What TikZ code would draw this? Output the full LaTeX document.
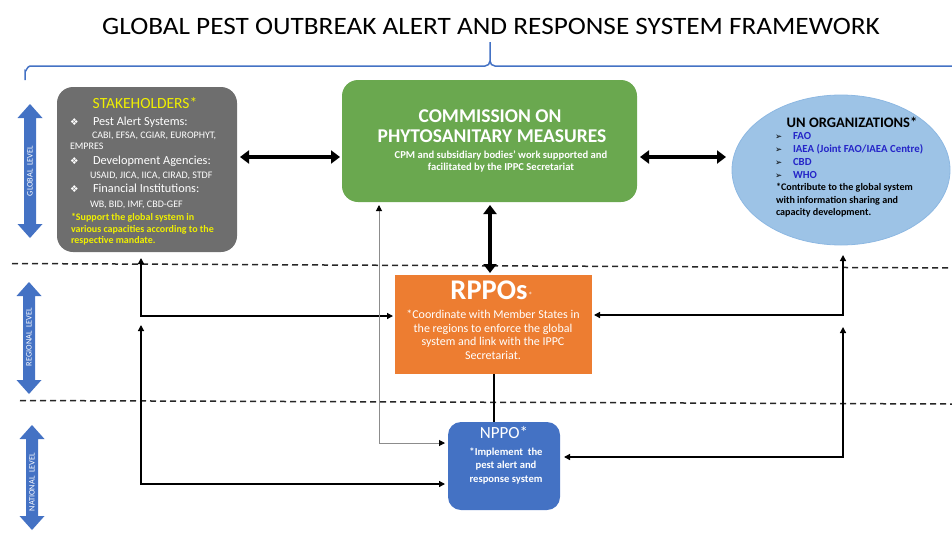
\documentclass[tikz,border=0pt]{standalone}
\usepackage{fontspec}
\setmainfont{Carlito}
\newfontfamily\symf{DejaVu Sans}
\usetikzlibrary{arrows.meta,shapes.geometric}
\definecolor{shgray}{HTML}{6E6E6E}
\definecolor{cpmgreen}{HTML}{6AA84F}
\definecolor{unblue}{HTML}{9DC3E6}
\definecolor{unborder}{HTML}{8DB8E2}
\definecolor{unitem}{HTML}{2525C8}
\definecolor{rppoorange}{HTML}{ED7D31}
\definecolor{nppoblue}{HTML}{4472C4}
\definecolor{levelblue}{HTML}{4472C4}
\definecolor{shyellow}{HTML}{F0F000}
\definecolor{graylink}{HTML}{8C8C8C}
\newcommand{\fs}[1]{\fontsize{#1}{#1}\selectfont}
\tikzset{
  box/.style={inner sep=0pt, outer sep=0pt, draw=none},
  txt/.style={inner sep=0pt, outer sep=0pt},
  bigarrow/.style={line width=3.5pt, {Triangle[width=13pt,length=9pt]}-{Triangle[width=13pt,length=9pt]}},
  thinarrow/.style={line width=1.3pt, black, {Triangle[width=6pt,length=6pt]}-{Triangle[width=6pt,length=6pt]}},
  graylinkstyle/.style={line width=1pt, graylink, {Triangle[width=6pt,length=6pt,color=black]}-{Triangle[width=6pt,length=6pt,color=black]}},
  levelline/.style={line width=1.5pt, dash pattern=on 6pt off 4pt, black!85},
  levelarrow/.style={fill=levelblue, draw=none},
  leveltext/.style={txt, text=white, font=\fs{8.3}, rotate=90},
  bul/.style={txt, anchor=base west, font=\symf\fs{9.5}},
  unbul/.style={txt, anchor=base west, font=\symf\fs{8.5}}
}
\begin{document}
\begin{tikzpicture}[x=1pt,y=-1pt]
\useasboundingbox (0,0) rectangle (952,533);

% title
\node[txt, anchor=base, font=\fs{25}, xscale=1.09] (title) at (491,34) {GLOBAL PEST OUTBREAK ALERT AND RESPONSE SYSTEM FRAMEWORK};

% brace
\draw[levelblue, line width=1.5pt] (25,80) -- (25,71) to[out=-90,in=180] (30,66) -- (485,66) to[out=0,in=-90] (490,61) -- (490,42)
  (490,61) to[out=-90,in=180] (495,66) -- (953,66);

% level separators
\draw[levelline] (12,263.5) -- (952,268);
\draw[levelline] (20,400.5) -- (952,404);

% level arrows
\foreach \cx/\ya/\yb in {30/104/238, 29/282/394, 32/425/530}{
  \fill[levelarrow] (\cx,\ya) -- (\cx+12.5,\ya+14) -- (\cx+6,\ya+14) -- (\cx+6,\yb-14) -- (\cx+12.5,\yb-14) -- (\cx,\yb)
     -- (\cx-12.5,\yb-14) -- (\cx-6,\yb-14) -- (\cx-6,\ya+14) -- (\cx-12.5,\ya+14) -- cycle;
}
\node[leveltext] (lvglobal) at (30,171) {GLOBAL~~LEVEL};
\node[leveltext] (lvregional) at (29,337) {REGIONAL~~LEVEL};
\node[leveltext] (lvnational) at (32,482) {NATIONAL~~LEVEL};

% boxes
\node[box, fill=shgray, rounded corners=16pt, minimum width=180pt, minimum height=165pt] (sh) at (147,169.5) {};
\node[box, fill=cpmgreen, rounded corners=16pt, minimum width=295pt, minimum height=122pt] (cpm) at (489.5,141) {};
\node[box, ellipse, fill=unblue, draw=unborder, line width=0.8pt, minimum width=218pt, minimum height=150pt] (un) at (841,170) {};
\node[box, fill=rppoorange, minimum width=197pt, minimum height=99pt] (rppo) at (493.5,324.5) {};
\node[box, fill=nppoblue, rounded corners=13pt, minimum width=112pt, minimum height=88pt] (nppo) at (504,466) {};

% stakeholders text
\node[txt, anchor=base, text=shyellow, font=\fs{15.5}] (shtitle) at (145,108) {STAKEHOLDERS*};
\node[bul, text=white] (shb1) at (70,125) {❖};
\node[txt, anchor=base west, text=white, font=\fs{12.3}] (sh1) at (93,125) {Pest Alert Systems:};
\node[txt, anchor=base west, text=white, font=\fs{10}] (sh1a) at (92,138) {CABI, EFSA, CGIAR, EUROPHYT,};
\node[txt, anchor=base west, text=white, font=\fs{10}] (sh1b) at (70,149.5) {EMPRES};
\node[bul, text=white] (shb2) at (70,164.5) {❖};
\node[txt, anchor=base west, text=white, font=\fs{12.3}] (sh2) at (93,164.5) {Development Agencies:};
\node[txt, anchor=base west, text=white, font=\fs{10}] (sh2a) at (90,178.5) {USAID, JICA, IICA, CIRAD, STDF};
\node[bul, text=white] (shb3) at (70,192.5) {❖};
\node[txt, anchor=base west, text=white, font=\fs{12.3}] (sh3) at (93,192.5) {Financial Institutions:};
\node[txt, anchor=base west, text=white, font=\fs{10}] (sh3a) at (90,207.5) {WB, BID, IMF, CBD-GEF};
\node[txt, anchor=base west, text=shyellow, font=\bfseries\fs{10}] (shn1) at (71,220) {*Support the global system in};
\node[txt, anchor=base west, text=shyellow, font=\bfseries\fs{10}] (shn2) at (71,232) {various capacities according to the};
\node[txt, anchor=base west, text=shyellow, font=\bfseries\fs{10}] (shn3) at (71,243.5) {respective mandate.};

% CPM text
\node[txt, anchor=base, text=white, font=\bfseries\fs{19.5}] (cpm1) at (490,122) {COMMISSION ON};
\node[txt, anchor=base, text=white, font=\bfseries\fs{19.5}] (cpm2) at (492,142.5) {PHYTOSANITARY MEASURES};
\node[txt, anchor=base, text=white, font=\bfseries\fs{10.6}] (cpm3) at (501,158.5) {CPM and subsidiary bodies’ work supported and};
\node[txt, anchor=base, text=white, font=\bfseries\fs{10.6}] (cpm4) at (501,170) {facilitated by the IPPC Secretariat};

% UN text
\node[txt, anchor=base, font=\bfseries\fs{14.5}] (untitle) at (852,127.5) {UN ORGANIZATIONS*};
\node[unbul] (unb1) at (775,139.5) {➢};
\node[txt, anchor=base west, text=unitem, font=\bfseries\fs{10.8}] (un1) at (793,139.5) {FAO};
\node[unbul] (unb2) at (775,152.5) {➢};
\node[txt, anchor=base west, text=unitem, font=\bfseries\fs{10.8}] (un2) at (793,152.5) {IAEA (Joint FAO/IAEA Centre)};
\node[unbul] (unb3) at (775,165.5) {➢};
\node[txt, anchor=base west, text=unitem, font=\bfseries\fs{10.8}] (un3) at (793,165.5) {CBD};
\node[unbul] (unb4) at (775,178) {➢};
\node[txt, anchor=base west, text=unitem, font=\bfseries\fs{10.8}] (un4) at (793,178) {WHO};
\node[txt, anchor=base west, font=\bfseries\fs{10.1}] (unn1) at (776,190.5) {*Contribute to the global system};
\node[txt, anchor=base west, font=\bfseries\fs{10.1}] (unn2) at (776,203) {with information sharing and};
\node[txt, anchor=base west, font=\bfseries\fs{10.1}] (unn3) at (776,215) {capacity development.};

% RPPO text
\node[txt, anchor=base, text=white, font=\bfseries\fs{28.5}] (rppot) at (489,299) {RPPOs};
\node[txt, anchor=base west, text=white!85!rppoorange, font=\fs{9}] (rppostar) at (528,298) {*};
\node[txt, anchor=base, text=white, font=\fs{12}] (rppo1) at (493,318.5) {*Coordinate with Member States in};
\node[txt, anchor=base, text=white, font=\fs{12}] (rppo2) at (493,332) {the regions to enforce the global};
\node[txt, anchor=base, text=white, font=\fs{12}] (rppo3) at (493,345.5) {system and link with the IPPC};
\node[txt, anchor=base, text=white, font=\fs{12}] (rppo4) at (493,359) {Secretariat.};

% NPPO text
\node[txt, anchor=base, text=white, font=\fs{17}] (nppot) at (504,438) {NPPO*};
\node[txt, anchor=base, text=white, font=\bfseries\fs{10.6}] (nppo1) at (506,455) {*Implement~ the};
\node[txt, anchor=base, text=white, font=\bfseries\fs{10.6}] (nppo2) at (506,468.5) {pest alert and};
\node[txt, anchor=base, text=white, font=\bfseries\fs{10.6}] (nppo3) at (506,482) {response system};

% thick connectors
\coordinate (Y1) at (0,157);
\draw[bigarrow, shorten <=3pt, shorten >=2pt] (sh.east |- Y1) -- (cpm.west |- Y1);
\draw[bigarrow, shorten <=3pt, shorten >=6pt] (cpm.east |- Y1) -- (un.west |- Y1);
\coordinate (X1) at (490,0);
\draw[bigarrow, shorten <=3pt, shorten >=2pt] (cpm.south -| X1) -- (rppo.north -| X1);
\coordinate (X2) at (494,0);
\draw[line width=2.5pt] (rppo.south -| X2) -- (nppo.north -| X2);

% thin connectors left
\coordinate (L1) at (141,316);
\coordinate (L2top) at (141,325);
\coordinate (L2) at (141,484);
\draw[thinarrow, shorten <=6pt, shorten >=2pt] (sh.south -| L1) -- (L1) -- (rppo.west |- L1);
\draw[thinarrow, shorten >=3pt] (L2top) -- (L2) -- (nppo.west |- L2);

% gray connector CPM - NPPO
\coordinate (G1) at (379,443);
\draw[graylinkstyle, shorten <=3pt, shorten >=3pt] (cpm.south -| G1) -- (G1) -- (nppo.west |- G1);

% thin connectors right
\coordinate (R1) at (843,315);
\coordinate (R1top) at (843,255);
\coordinate (R2) at (843,457);
\coordinate (R2top) at (843,327);
\draw[thinarrow, shorten <=2pt] (rppo.east |- R1) -- (R1) -- (R1top);
\draw[thinarrow, shorten <=4pt] (nppo.east |- R2) -- (R2) -- (R2top);
\end{tikzpicture}
\end{document}
